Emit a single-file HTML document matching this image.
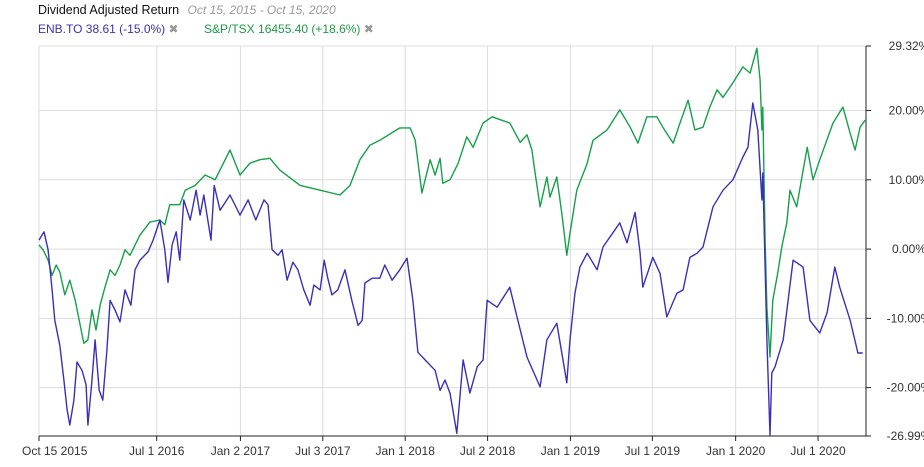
<!DOCTYPE html>
<html><head><meta charset="utf-8"><style>
body{margin:0;background:#fff;font-family:"Liberation Sans",sans-serif}
#wrap{position:relative;width:924px;height:467px}
.h{position:absolute;font-size:12px;white-space:nowrap}
</style></head><body>
<div id="wrap">
<div class="h" style="left:38px;top:3px;color:#111;font-size:12.5px">Dividend Adjusted Return <span style="color:#999;font-style:italic;margin-left:5px;font-size:12px">Oct 15, 2015 - Oct 15, 2020</span></div>
<div class="h" style="left:38px;top:22px;color:#3b33b5">ENB.TO 38.61 (-15.0%) <span style="color:#999">✖</span></div>
<div class="h" style="left:204px;top:22px;color:#1d9a45">S&amp;P/TSX 16455.40 (+18.6%) <span style="color:#999">✖</span></div>
<svg id="svg" width="924" height="467" style="position:absolute;left:0;top:0"></svg>
</div>
<script>
const xTickLabels=["Oct 15 2015","Jul 1 2016","Jan 2 2017","Jul 3 2017","Jan 1 2018","Jul 2 2018","Jan 1 2019","Jul 1 2019","Jan 1 2020","Jul 1 2020"];
const xTickDays=[0,260,445,627,809,991,1174,1355,1539,1721];
const yTicks=[20,10,0,-10,-20];
const yMax=29.32, yMin=-26.99;
const enbDays=[0,11,20,29,35,46,55,62,68,77,84,95,104,108,117,124,133,141,150,157,168,179,190,203,212,223,241,252,267,278,285,294,303,311,320,334,347,356,364,380,387,400,422,444,462,479,497,506,515,528,537,548,561,572,585,599,607,621,630,638,647,660,676,691,705,714,720,736,753,764,780,797,813,826,837,853,875,886,897,908,923,937,952,968,981,990,1012,1040,1056,1078,1107,1122,1144,1166,1173,1184,1195,1211,1233,1246,1283,1299,1317,1328,1334,1356,1372,1387,1409,1423,1438,1454,1467,1489,1511,1533,1555,1566,1577,1588,1597,1599,1608,1615,1619,1626,1644,1666,1688,1703,1725,1741,1758,1769,1792,1809,1820];
const enbValues=[1.3,2.5,-0.1,-5.9,-10.3,-13.9,-18.9,-23.2,-25.4,-21.8,-16.3,-17.5,-19.6,-25.4,-18.9,-13.1,-20.4,-21.8,-14.6,-7.4,-8.8,-10.5,-5.9,-8.1,-3.0,-1.6,-0.4,1.3,4.2,-0.1,-4.8,0.6,2.5,-1.6,7.1,4.2,8.5,4.9,7.8,1.3,9.2,5.6,7.8,4.9,7.1,4.2,7.1,6.4,-0.1,-0.9,-0.1,-4.5,-1.9,-3.0,-5.9,-8.1,-5.2,-5.9,-1.6,-4.2,-6.6,-5.9,-3.0,-7.4,-11.0,-10.3,-4.9,-4.2,-4.2,-2.3,-4.5,-3.0,-1.3,-7.4,-14.9,-16.0,-17.5,-20.4,-18.9,-20.8,-26.6,-16.0,-20.8,-17.0,-16.0,-7.4,-8.4,-5.5,-9.8,-15.6,-19.9,-13.1,-10.7,-19.3,-13.1,-6.4,-2.6,-0.6,-3.0,0.3,3.8,0.9,5.3,-0.6,-5.5,-1.2,-3.5,-9.8,-6.4,-5.9,-1.2,-0.6,0.3,6.1,8.5,10.0,13.3,14.7,21.1,17.2,7.1,11.0,-13.1,-26.9,-17.9,-17.0,-13.1,-1.6,-2.6,-10.3,-12.1,-9.2,-2.6,-5.5,-10.3,-15.0,-15.0];
const tsxDays=[0,9,20,29,38,46,57,68,80,91,99,108,117,126,135,144,157,168,179,190,201,223,245,267,278,289,311,323,345,367,389,422,444,466,488,510,532,577,621,665,687,709,731,753,797,820,831,846,864,875,886,892,908,926,945,959,981,1001,1040,1063,1078,1089,1096,1107,1122,1129,1144,1155,1166,1173,1188,1211,1224,1255,1283,1306,1323,1343,1365,1378,1401,1416,1434,1449,1467,1482,1498,1511,1533,1555,1571,1586,1593,1597,1599,1604,1608,1615,1621,1632,1641,1652,1659,1674,1697,1710,1725,1754,1776,1792,1803,1814,1825];
const tsxValues=[0.6,-0.1,-1.6,-3.8,-2.3,-3.3,-6.6,-4.5,-7.4,-11.0,-13.6,-13.1,-8.8,-11.7,-8.1,-5.9,-3.0,-3.8,-2.3,-0.1,-0.9,2.0,3.9,4.2,3.5,6.4,6.4,8.5,9.2,10.7,10.0,14.3,10.7,12.4,12.9,13.1,11.4,9.2,8.5,7.8,9.2,12.9,15.0,15.7,17.5,17.5,15.7,8.1,12.9,10.7,13.1,9.5,10.0,12.4,16.2,14.7,18.2,19.1,18.2,15.4,16.5,14.3,11.0,6.1,10.4,7.5,10.4,5.2,-0.9,2.3,8.5,12.4,15.7,17.2,20.1,17.6,15.3,19.1,19.1,17.6,15.3,18.2,21.5,17.2,17.6,20.5,23.0,21.9,24.0,26.3,25.4,29.0,24.4,17.2,20.5,1.3,-8.4,-15.6,-7.4,-3.5,0.3,3.8,8.5,6.1,14.7,10.0,12.9,18.2,20.5,16.7,14.3,17.6,18.6];
const L=39,R=866,T=46,B=436,totalDays=1827;
const xs=d=>L+d/totalDays*(R-L);
const ys=v=>T+(yMax-v)/(yMax-yMin)*(B-T);
const svg=document.getElementById('svg');const NS='http://www.w3.org/2000/svg';
function mk(t,a){const e=document.createElementNS(NS,t);for(const k in a)e.setAttribute(k,a[k]);svg.appendChild(e);return e;}
[yMax].concat(yTicks).forEach(v=>{const g=mk('line',{x1:L,x2:R,y1:ys(v),y2:ys(v),stroke:'#dcdcdc'});

});
xTickDays.forEach((d,i)=>{const g=mk('line',{x1:xs(d),x2:xs(d),y1:T,y2:B,stroke:'#dcdcdc'});


const tk=mk('line',{x1:xs(d),x2:xs(d),y1:B,y2:B+5,stroke:'#222'});


const t=mk('text',{x:xs(d)+(i==0?-17:0),y:B+19,'text-anchor':i==0?'start':'middle','font-size':'12',fill:'#333','font-family':'Liberation Sans, sans-serif'});
t.textContent=xTickLabels[i];

});
const ax=mk('line',{x1:L,x2:R,y1:B,y2:B,stroke:'#222'});


const ay=mk('line',{x1:R,x2:R,y1:T,y2:B,stroke:'#222'});


[yMax].concat(yTicks).concat([yMin]).forEach(v=>{const tk=mk('line',{x1:R,x2:R+5,y1:ys(v),y2:ys(v),stroke:'#222'});


const t=mk('text',{x:R+43,y:ys(v)+4,'text-anchor':'middle','font-size':'12',fill:'#333','font-family':'Liberation Sans, sans-serif'});
t.textContent=v.toFixed(2)+'%';

});
function line(days,vals,color,name){const p=mk('path',{d:days.map((d,i)=>(i?'L':'M')+xs(d).toFixed(1)+','+ys(vals[i]).toFixed(1)).join(''),fill:'none',stroke:color,'stroke-width':'1.4','stroke-linejoin':'round'});

}
line(tsxDays,tsxValues,'#16a04a','tsx-line');
line(enbDays,enbValues,'#3a2fb8','enb-line');
</script>
</body></html>
